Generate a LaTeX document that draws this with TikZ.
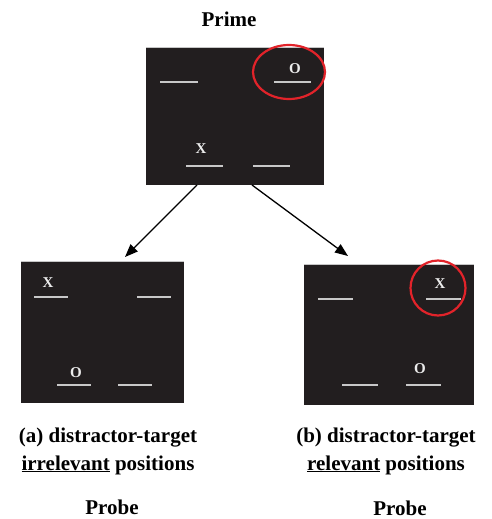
\documentclass[tikz,border=0pt]{standalone}
\usepackage{fontspec}
\setmainfont{Liberation Serif}
\usetikzlibrary{arrows.meta}
\definecolor{scrfill}{HTML}{221E1F}
\definecolor{barcol}{HTML}{C8C8C8}
\definecolor{ringred}{HTML}{E2232A}
\tikzset{
  screen/.style={fill=scrfill, draw=none, inner sep=0pt},
  rim/.style={draw=gray!45, line width=1.2pt},
  bar/.style={draw=barcol, line width=2pt},
  letter/.style={text=gray!15, font=\fontsize{15}{15}\selectfont\bfseries, inner sep=0pt},
  ring/.style={draw=ringred, line width=2.2pt},
  title/.style={font=\fontsize{21}{28}\selectfont\bfseries, align=center, inner sep=0pt},
  link/.style={-{Triangle[length=13pt,width=10pt]}, line width=1.3pt}
}
\begin{document}
\begin{tikzpicture}[x=1pt,y=-1pt]
  \useasboundingbox (0,0) rectangle (491,519);
  % the three screens
  \node[screen, minimum width=178pt, minimum height=137pt] (prime) at (235,116.5) {};
  \node[screen, minimum width=163pt, minimum height=141pt] (probeA) at (102.5,332.5) {};
  \node[screen, minimum width=170pt, minimum height=140pt] (probeB) at (389,335) {};
  \foreach \s in {prime,probeA,probeB}
    \draw[rim] (\s.north west) -- (\s.north east);
  % prime display
  \draw[bar] (160,82) -- (198,82);
  \draw[bar] (274,82) -- (311,82);
  \draw[bar] (186,166) -- (223,166);
  \draw[bar] (253,166) -- (290,166);
  \node[letter] (primeO) at (295,69) {O};
  \node[letter] (primeX) at (201,149) {X};
  \draw[ring] (289,72) ellipse (36 and 27);
  % probe a
  \draw[bar] (34,297) -- (68,297);
  \draw[bar] (137,297) -- (171,297);
  \draw[bar] (57,385) -- (91,385);
  \draw[bar] (118,385) -- (152,385);
  \node[letter] (probeAX) at (48,283) {X};
  \node[letter] (probeAO) at (76,373) {O};
  % probe b
  \draw[bar] (318,299) -- (353,299);
  \draw[bar] (426,299) -- (461,299);
  \draw[bar] (342,385) -- (378,385);
  \draw[bar] (406,385) -- (441,385);
  \node[letter] (probeBX) at (440,284) {X};
  \node[letter] (probeBO) at (420,369) {O};
  \draw[ring] (438,288) circle (27.5);
  % arrows
  \coordinate (fromA) at (197,185);
  \coordinate (toA) at (125,257);
  \coordinate (fromB) at (252,185);
  \coordinate (toB) at (348,256);
  \draw[link] (fromA) -- (toA);
  \draw[link] (fromB) -- (toB);
  % labels
  \node[title] (primeT) at (229,19) {Prime};
  \node[title] (capA) at (108,451) {(a) distractor-target\\\underline{irrelevant} positions};
  \node[title] (capB) at (386,451) {(b) distractor-target\\\underline{relevant} positions};
  \node[title] (probeAT) at (112,507) {Probe};
  \node[title] (probeBT) at (400,508) {Probe};
\end{tikzpicture}
\end{document}
